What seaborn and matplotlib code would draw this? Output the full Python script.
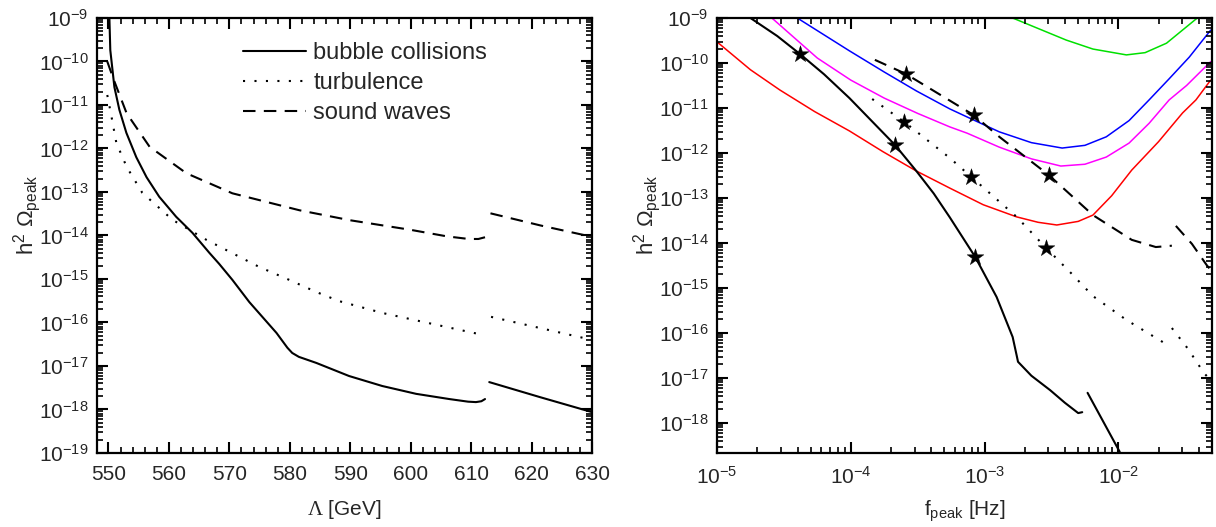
import numpy as np
import matplotlib
matplotlib.use('Agg')
import matplotlib.pyplot as plt
import seaborn as sns
from matplotlib.ticker import LogLocator, MultipleLocator, NullFormatter

# ---- left panel: h^2 Omega_peak vs Lambda (values read as log10) ----
bc1_lam = [550.15, 550.3, 550.98, 551.8, 552.96, 554.6, 556.3, 558.4, 561.2, 563.9, 566.7, 568.3,
           570.5, 573.3, 577.8, 579.6, 580.4, 581.5, 584.4, 589.8, 595.3, 600.9, 606.4, 609.5,
           610.8, 611.7, 612.3]
bc1_log = [-9.0, -9.74, -10.59, -11.11, -11.64, -12.2, -12.66, -13.11, -13.57, -13.94, -14.4, -14.65,
           -15.02, -15.53, -16.24, -16.58, -16.70, -16.79, -16.93, -17.23, -17.46, -17.64, -17.76, -17.82,
           -17.83, -17.81, -17.76]
bc2_lam = [613.0, 621.5, 630.0]
bc2_log = [-17.37, -17.72, -18.06]

tu1_lam = [549.8, 550.5, 551.3, 553.0, 555.6, 560.6, 566.2, 574.9, 579.9, 584.4, 588.2, 595.3, 603.5, 612.1]
tu1_log = [-10.77, -11.27, -11.87, -12.42, -13.02, -13.64, -14.1, -14.72, -15.02, -15.3, -15.51, -15.78,
           -16.03, -16.29]
tu2_lam = [613.3, 621.5, 630.0]
tu2_log = [-15.87, -16.13, -16.4]

sw1_lam = [549.8, 550.9, 553.0, 556.8, 562.9, 570.5, 581.6, 590.0, 600.0, 606.0, 609.6, 611.2, 612.3]
sw1_log = [-10.0, -10.43, -11.19, -11.96, -12.57, -13.03, -13.42, -13.65, -13.87, -14.02, -14.08, -14.08,
           -14.04]
sw2_lam = [613.2, 621.5, 630.0]
sw2_log = [-13.49, -13.77, -14.03]

# ---- right panel: h^2 Omega_peak vs f_peak (log10 f, log10 Omega) ----
red_f = [-5.0, -4.75, -4.53, -4.27, -4.01, -3.76, -3.51, -3.26, -3.01, -2.76, -2.6, -2.46, -2.3, -2.19,
         -2.05, -1.9, -1.7, -1.52, -1.42, -1.31]
red_o = [-9.53, -10.15, -10.6, -11.08, -11.51, -11.97, -12.4, -12.78, -13.15, -13.42, -13.54, -13.6,
         -13.52, -13.38, -12.95, -12.38, -11.75, -11.11, -10.82, -10.38]
mag_f = [-4.59, -4.25, -4.0, -3.75, -3.5, -3.26, -3.13, -2.89, -2.65, -2.43, -2.25, -2.09, -1.92, -1.77,
         -1.62, -1.49, -1.31]
mag_o = [-9.0, -9.89, -10.38, -10.78, -11.12, -11.42, -11.56, -11.87, -12.13, -12.29, -12.25, -12.09,
         -11.78, -11.34, -10.82, -10.5, -9.97]
blue_f = [-4.4, -4.01, -3.75, -3.51, -3.26, -3.13, -2.89, -2.65, -2.42, -2.25, -2.09, -1.92, -1.77, -1.62,
          -1.47, -1.31]
blue_o = [-9.0, -9.73, -10.2, -10.62, -11.02, -11.2, -11.53, -11.77, -11.89, -11.83, -11.64, -11.28,
          -10.82, -10.35, -9.87, -9.27]
green_f = [-2.79, -2.39, -2.19, -1.94, -1.8, -1.64, -1.41]
green_o = [-9.0, -9.49, -9.69, -9.82, -9.77, -9.56, -9.0]

fbc1_f = [-4.75, -4.55, -4.38, -4.2, -4.01, -3.84, -3.67, -3.51, -3.38, -3.26, -3.07, -2.91, -2.79,
          -2.76, -2.75, -2.65, -2.51, -2.4, -2.3, -2.27]
fbc1_o = [-9.0, -9.4, -9.8, -10.25, -10.78, -11.3, -11.82, -12.4, -12.9, -13.43, -14.31, -15.2, -16.09,
          -16.5, -16.64, -16.95, -17.27, -17.55, -17.78, -17.76]
fbc2_f = [-2.23, -1.99]
fbc2_o = [-17.33, -18.64]

fsw1_f = [-3.82, -3.59, -3.08, -2.89, -2.52, -2.19, -1.9, -1.72, -1.6]
fsw1_o = [-9.93, -10.24, -11.16, -11.64, -12.49, -13.38, -13.93, -14.09, -14.06]
fsw2_f = [-1.57, -1.45, -1.34, -1.31]
fsw2_o = [-13.62, -14.02, -14.49, -14.6]

ftu1_f = [-3.84, -3.6, -3.26, -3.1, -2.76, -2.54, -2.35, -2.19, -1.94, -1.63]
ftu1_o = [-10.8, -11.31, -12.11, -12.53, -13.42, -14.11, -14.68, -15.18, -15.71, -16.27]
ftu2_f = [-1.6, -1.48, -1.36, -1.31]
ftu2_o = [-15.89, -16.35, -16.89, -17.05]

star_bc_f = [-4.38, -3.67, -3.07]
star_bc_o = [-9.8, -11.82, -14.31]
star_sw_f = [-3.59, -3.08, -2.52]
star_sw_o = [-10.24, -11.16, -12.49]
star_tu_f = [-3.6, -3.1, -2.54]
star_tu_o = [-11.31, -12.53, -14.11]

sns.set_style('ticks')
plt.rcParams['font.family'] = ['Liberation Sans', 'DejaVu Sans']
plt.rcParams['mathtext.fontset'] = 'custom'
plt.rcParams['mathtext.rm'] = 'Liberation Sans'
plt.rcParams['mathtext.it'] = 'Liberation Sans:italic'
plt.rcParams['mathtext.tt'] = 'Liberation Serif'
plt.rcParams['axes.unicode_minus'] = False
plt.rcParams['axes.axisbelow'] = False

DOT = (0, (1, 4.5))
DASH = (0, (6, 4))

fig = plt.figure(figsize=(12.16, 5.27), dpi=100)
ax1 = fig.add_axes([97 / 1216, 74 / 527, 495 / 1216, 435 / 527])
ax2 = fig.add_axes([717 / 1216, 74 / 527, 495 / 1216, 435 / 527])


def line(ax, x, logy, ls='-', color='black', lw=1.5, label=None, logx=False):
    xx = np.power(10.0, x) if logx else np.asarray(x)
    sns.lineplot(x=xx, y=np.power(10.0, logy), ax=ax, color=color, linewidth=lw,
                 linestyle=ls, estimator=None, sort=False, label=label, legend=False)


# left panel
line(ax1, bc1_lam, bc1_log, '-', label='bubble collisions')
line(ax1, bc2_lam, bc2_log, '-')
line(ax1, tu1_lam, tu1_log, DOT, label='turbulence')
line(ax1, tu2_lam, tu2_log, DOT)
line(ax1, sw1_lam, sw1_log, DASH, label='sound waves')
line(ax1, sw2_lam, sw2_log, DASH)

ax1.set_yscale('log')
ax1.set_xlim(548.1, 630)
ax1.set_ylim(1e-19, 1e-9)
ax1.xaxis.set_major_locator(MultipleLocator(10))
ax1.xaxis.set_minor_locator(MultipleLocator(2))
ax1.set_xlabel('$\\mathtt{\\Lambda}$ [GeV]', fontsize=15, labelpad=10)
ax1.legend(loc='upper left', bbox_to_anchor=(0.295, 0.945), frameon=False, fontsize=17,
           handlelength=2.67, handletextpad=0.3, labelspacing=0.35, borderaxespad=0, borderpad=0)

# right panel
line(ax2, red_f, red_o, '-', color='#ff0000', lw=1.1, logx=True)
line(ax2, mag_f, mag_o, '-', color='#ff00ff', lw=1.1, logx=True)
line(ax2, blue_f, blue_o, '-', color='#0000ff', lw=1.1, logx=True)
line(ax2, green_f, green_o, '-', color='#00e000', lw=1.1, logx=True)
line(ax2, fbc1_f, fbc1_o, '-', logx=True)
line(ax2, fbc2_f, fbc2_o, '-', logx=True)
line(ax2, fsw1_f, fsw1_o, DASH, logx=True)
line(ax2, fsw2_f, fsw2_o, DASH, logx=True)
line(ax2, ftu1_f, ftu1_o, DOT, logx=True)
line(ax2, ftu2_f, ftu2_o, DOT, logx=True)
for sf, so in [(star_bc_f, star_bc_o), (star_sw_f, star_sw_o), (star_tu_f, star_tu_o)]:
    sns.scatterplot(x=np.power(10.0, sf), y=np.power(10.0, so), ax=ax2, marker='*', s=160,
                    color='black', edgecolor='black', linewidth=0.3, zorder=5)

ax2.set_xscale('log')
ax2.set_yscale('log')
ax2.set_xlim(1e-5, 10 ** -1.3)
ax2.set_ylim(10 ** -18.667, 1e-9)
ax2.set_xlabel('f$_{\\rm peak}$ [Hz]', fontsize=15, labelpad=8)
ax2.xaxis.set_major_locator(LogLocator(base=10, numticks=20))
ax2.xaxis.set_minor_locator(LogLocator(base=10, subs=np.arange(2, 10), numticks=20))
ax2.xaxis.set_minor_formatter(NullFormatter())

for ax in (ax1, ax2):
    ax.set_axisbelow(False)
    ax.yaxis.set_major_locator(LogLocator(base=10, numticks=20))
    ax.yaxis.set_minor_locator(LogLocator(base=10, subs=np.arange(2, 10), numticks=20))
    ax.yaxis.set_minor_formatter(NullFormatter())
    ax.set_ylabel('h$^2$ $\\Omega_{\\rm peak}$', fontsize=16)
    ax.yaxis.set_label_coords(-0.109, 0.547)
    for sp in ax.spines.values():
        sp.set_linewidth(1.6)
        sp.set_color('black')
    ax.tick_params(which='both', direction='in', top=True, right=True, labelsize=15, color='black')
    ax.tick_params(axis='y', which='major', length=8, width=1.5, pad=6)
    ax.tick_params(axis='x', which='major', length=8, width=1.5, pad=9)
    ax.tick_params(which='minor', length=4.5, width=1.2)

fig.savefig('out.png', dpi=100)
